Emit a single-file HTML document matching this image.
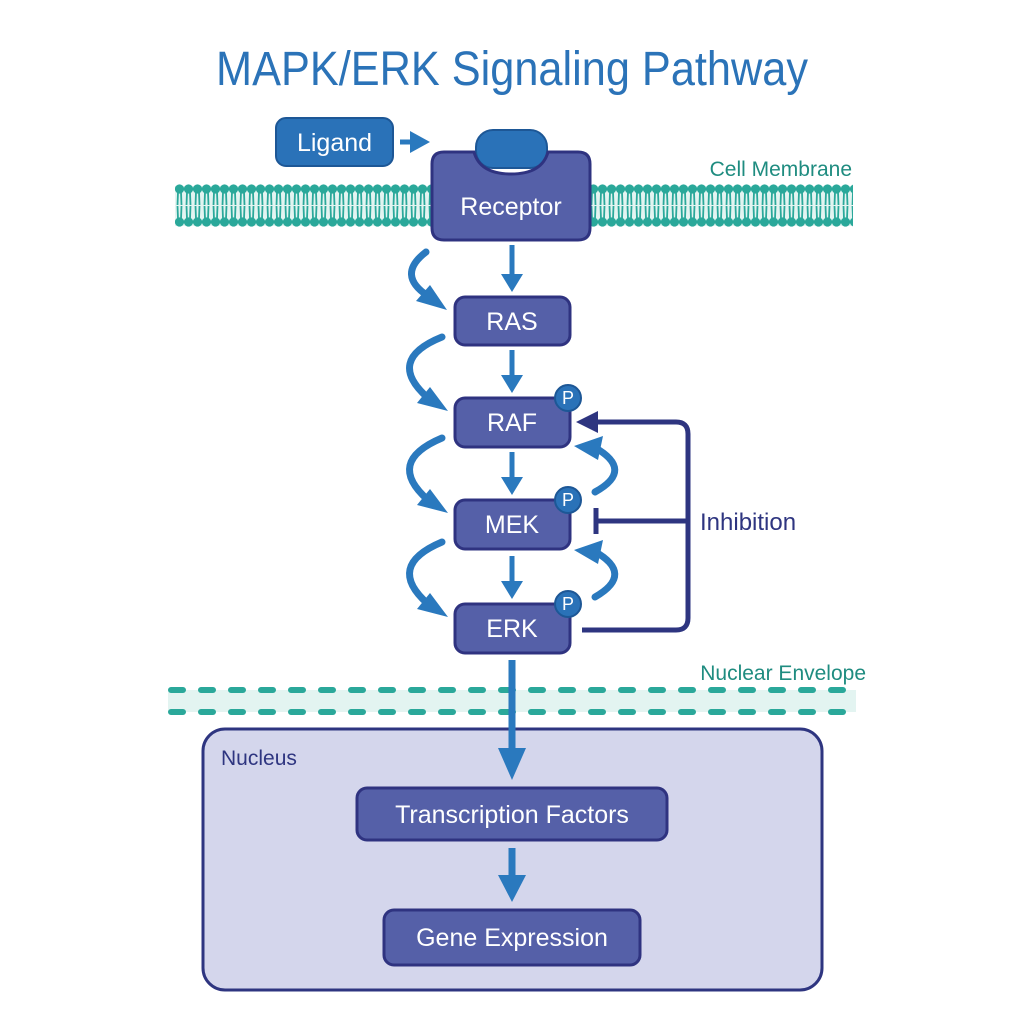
<!DOCTYPE html>
<html><head><meta charset="utf-8"><style>
html,body{margin:0;padding:0;background:#fff;}
svg{display:block;font-family:"Liberation Sans",sans-serif;}
</style></head><body>
<svg width="1024" height="1024" viewBox="0 0 1024 1024" xmlns="http://www.w3.org/2000/svg">
<defs>
<pattern id="lip" x="175" y="0" width="9" height="1024" patternUnits="userSpaceOnUse">
<circle cx="4.5" cy="189" r="4.6" fill="#2aa89a"/>
<circle cx="4.5" cy="222" r="4.6" fill="#2aa89a"/>
<path d="M3 192 L2.5 205 M6 192 L6.5 205 M3 219 L2.5 206 M6 219 L6.5 206" stroke="#2aa89a" stroke-width="1.8" fill="none"/>
</pattern>
</defs>
<rect width="1024" height="1024" fill="#fff"/>
<text x="512" y="85" text-anchor="middle" font-size="48" fill="#2b73b8" textLength="592" lengthAdjust="spacingAndGlyphs">MAPK/ERK Signaling Pathway</text>

<!-- membrane -->
<rect x="175" y="186" width="678" height="40" fill="#e3f4f1"/>
<rect x="175" y="183" width="678" height="45" fill="url(#lip)"/>
<text x="852" y="176" text-anchor="end" font-size="21" fill="#1f8c80">Cell Membrane</text>

<!-- ligand -->
<rect x="276" y="118" width="117" height="48" rx="10" fill="#2a72b8" stroke="#1d5796" stroke-width="2"/>
<text x="334.5" y="151" text-anchor="middle" font-size="25" fill="#fff">Ligand</text>
<path d="M400 142 L414 142" stroke="#2a79be" stroke-width="5"/>
<path d="M410 131 L430 142 L410 153 Z" fill="#2a79be"/>

<!-- receptor -->
<rect x="476" y="130" width="71" height="38" rx="17" fill="#2a72b8" stroke="#1d5796" stroke-width="2"/>
<path d="M444 152 L474 152 Q480 174 511 174 Q542 174 548 152 L578 152 Q590 152 590 164 L590 228 Q590 240 578 240 L444 240 Q432 240 432 228 L432 164 Q432 152 444 152 Z" fill="#5560a8" stroke="#2f3380" stroke-width="3"/>
<text x="511" y="215" text-anchor="middle" font-size="25" fill="#fff">Receptor</text>

<!-- nodes -->
<g stroke="#2f3380" stroke-width="3" fill="#5560a8">
<rect x="455" y="297" width="115" height="48" rx="10"/>
<rect x="455" y="398" width="115" height="49" rx="10"/>
<rect x="455" y="500" width="115" height="49" rx="10"/>
<rect x="455" y="604" width="115" height="49" rx="10"/>
</g>
<g font-size="25" fill="#fff" text-anchor="middle">
<text x="512" y="330">RAS</text>
<text x="512" y="431">RAF</text>
<text x="512" y="533">MEK</text>
<text x="512" y="637">ERK</text>
</g>
<g>
<circle cx="568" cy="398" r="13" fill="#2a72b8" stroke="#1d5796" stroke-width="2"/>
<circle cx="568" cy="500" r="13" fill="#2a72b8" stroke="#1d5796" stroke-width="2"/>
<circle cx="568" cy="604" r="13" fill="#2a72b8" stroke="#1d5796" stroke-width="2"/>
<g font-size="18" fill="#fff" text-anchor="middle"><text x="568" y="404">P</text><text x="568" y="506">P</text><text x="568" y="610">P</text></g>
</g>

<!-- straight arrows -->
<g stroke="#2a79be" stroke-width="5" fill="none">
<path d="M512 245 L512 276"/><path d="M512 350 L512 377"/><path d="M512 452 L512 479"/><path d="M512 556 L512 583"/>
</g>
<g fill="#2a79be">
<path d="M501 274 L523 274 L512 292 Z"/><path d="M501 375 L523 375 L512 393 Z"/><path d="M501 477 L523 477 L512 495 Z"/><path d="M501 581 L523 581 L512 599 Z"/>
</g>

<!-- curved arrows -->
<g stroke="#2a79be" stroke-width="7" fill="none" stroke-linecap="round">
<path d="M426 252 Q396 275 428 296"/>
<path d="M442 337 Q385 360 428 398"/>
<path d="M442 438 Q385 462 428 500"/>
<path d="M442 542 Q385 566 428 604"/>
<path d="M595 492 Q635 470 594 447"/>
<path d="M595 597 Q635 574 594 551"/>
</g>
<g fill="#2a79be">
<path d="M416 301 L447 310 L430 285 Z"/>
<path d="M417 403 L448 411 L430 387 Z"/>
<path d="M417 505 L448 513 L430 489 Z"/>
<path d="M417 609 L448 617 L430 593 Z"/>
<path d="M574 446 L603 436 L598 460 Z"/>
<path d="M574 550 L603 540 L598 564 Z"/>
</g>

<!-- feedback -->
<path d="M582 630 L676 630 Q688 630 688 618 L688 434 Q688 422 676 422 L596 422" stroke="#2e3580" stroke-width="5" fill="none"/>
<path d="M598 411 L576 422 L598 433 Z" fill="#2e3580"/>
<path d="M688 521 L596 521 M596 508 L596 534" stroke="#2e3580" stroke-width="5" fill="none"/>
<text x="700" y="530" font-size="24" fill="#2e3580">Inhibition</text>

<!-- nuclear envelope -->
<rect x="168" y="690" width="688" height="22" fill="#e3f4f1"/>
<g stroke="#2aa89a" stroke-width="6" stroke-linecap="round" stroke-dasharray="12 18" fill="none">
<path d="M171 690 L856 690"/><path d="M171 712 L856 712"/>
</g>
<text x="866" y="680" text-anchor="end" font-size="21" fill="#1f8c80">Nuclear Envelope</text>

<!-- nucleus -->
<rect x="203" y="729" width="619" height="261" rx="22" fill="#d4d6ec" stroke="#2e3580" stroke-width="3"/>
<text x="221" y="765" font-size="21" fill="#2e3580">Nucleus</text>
<path d="M512 660 L512 752" stroke="#2a79be" stroke-width="7"/>
<path d="M498 748 L526 748 L512 780 Z" fill="#2a79be"/>

<rect x="357" y="788" width="310" height="52" rx="10" fill="#5560a8" stroke="#2f3380" stroke-width="3"/>
<text x="512" y="823" text-anchor="middle" font-size="25" fill="#fff">Transcription Factors</text>
<path d="M512 848 L512 878" stroke="#2a79be" stroke-width="7"/>
<path d="M498 875 L526 875 L512 902 Z" fill="#2a79be"/>
<rect x="384" y="910" width="256" height="55" rx="10" fill="#5560a8" stroke="#2f3380" stroke-width="3"/>
<text x="512" y="946" text-anchor="middle" font-size="25" fill="#fff">Gene Expression</text>
</svg>
</body></html>
